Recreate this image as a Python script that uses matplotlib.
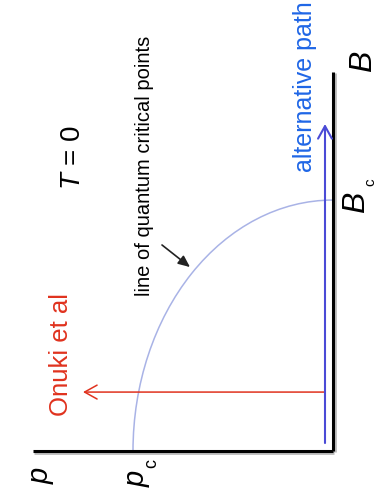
import matplotlib
matplotlib.use("Agg")
import matplotlib.pyplot as plt
from matplotlib.patches import Arc

plt.rcParams['font.family'] = ['Liberation Sans', 'DejaVu Sans']
plt.rcParams['mathtext.fontset'] = 'custom'
plt.rcParams['mathtext.it'] = 'Liberation Sans:italic'
plt.rcParams['mathtext.rm'] = 'Liberation Sans'

# ---- schematic data (p in units of p_c, B in units of B_c) ----
p_c = 1.0
B_c = 1.0
axis_p_end = [0.0, 1.5]          # pressure axis extent
axis_B_end = [0.0, 1.51]         # field axis extent
onuki_B = [0.235, 0.235]         # Onuki et al path (constant B, increasing p)
onuki_p = [0.04, 1.25]
alt_p = [0.04, 0.04]             # alternative path (p ~ 0, increasing B)
alt_B = [0.032, 1.303]
label_arrow_p = [0.855, 0.715]   # pointer to the QCP line
label_arrow_B = [0.821, 0.733]

RED = '#e0321e'
BLUE_LINE = '#4b4bd6'
BLUE_TEXT = '#1f66e6'
ARC = '#a9b3e6'

fig = plt.figure(figsize=(3.77, 4.99), dpi=100)
ax = fig.add_axes([0, 0, 1, 1])
ax.set_xlim(1.665, -0.22)
ax.set_ylim(-0.191, 1.797)
ax.axis('off')

# axes lines (with light shadow)
ax.plot([axis_p_end[0], axis_p_end[1]], [0, 0], color='#bbbbbb', lw=2.0,
        transform=ax.transData + matplotlib.transforms.ScaledTranslation(1/100, -1.5/100, fig.dpi_scale_trans),
        solid_capstyle='butt')
ax.plot([0, 0], [axis_B_end[0], axis_B_end[1]], color='#bbbbbb', lw=2.0,
        transform=ax.transData + matplotlib.transforms.ScaledTranslation(1.5/100, -1/100, fig.dpi_scale_trans),
        solid_capstyle='butt')
ax.plot(axis_p_end, [0, 0], color='black', lw=2.2, solid_capstyle='butt')
ax.plot([0, 0], axis_B_end, color='black', lw=2.2, solid_capstyle='butt')

# line of quantum critical points
ax.add_patch(Arc((0, 0), 2 * p_c, 2 * B_c, theta1=0, theta2=90, color=ARC, lw=1.1))

# Onuki et al path
ax.annotate('', xy=(onuki_p[1], onuki_B[1]), xytext=(onuki_p[0], onuki_B[0]),
            arrowprops=dict(arrowstyle='->, head_length=0.45, head_width=0.25',
                            mutation_scale=20, color=RED, lw=1.1, shrinkA=0, shrinkB=0))
# alternative path
ax.annotate('', xy=(alt_p[1], alt_B[1]), xytext=(alt_p[0], alt_B[0]),
            arrowprops=dict(arrowstyle='->, head_length=0.45, head_width=0.25',
                            mutation_scale=20, color=BLUE_LINE, lw=1.5, shrinkA=0, shrinkB=0))
# pointer arrow
ax.annotate('', xy=(label_arrow_p[1], label_arrow_B[1]), xytext=(label_arrow_p[0], label_arrow_B[0]),
            arrowprops=dict(arrowstyle='-|>, head_length=0.5, head_width=0.22',
                            mutation_scale=14, color='#222222', lw=1.2, shrinkA=0, shrinkB=0))

def px(x, y):
    return x / 377, 1 - y / 499

tf = ax.transAxes
ax.text(*px(305, 87), 'alternative path', color=BLUE_TEXT, fontsize=18, rotation=90,
        ha='center', va='center', transform=tf)
ax.text(*px(145, 166), 'line of quantum critical points', color='black', fontsize=14.5,
        rotation=90, ha='center', va='center', transform=tf)
ax.text(*px(61, 355), 'Onuki et al', color=RED, fontsize=18.5, rotation=90,
        ha='center', va='center', transform=tf)
ax.text(*px(73, 158), r'$T$ = 0', color='black', fontsize=20, rotation=90,
        ha='center', va='center', transform=tf)
ax.text(*px(363, 61), 'B', color='black', fontsize=23, style='italic', rotation=90,
        ha='center', va='center', transform=tf)
ax.text(*px(356, 202), 'B', color='black', fontsize=23, style='italic', rotation=90,
        ha='center', va='center', transform=tf)
ax.text(*px(370, 182), 'c', color='black', fontsize=11, rotation=90,
        ha='center', va='center', transform=tf)
ax.text(*px(41, 476), 'p', color='black', fontsize=21, style='italic', rotation=90,
        ha='center', va='center', transform=tf)
ax.text(*px(137, 479), 'p', color='black', fontsize=21, style='italic', rotation=90,
        ha='center', va='center', transform=tf)
ax.text(*px(152, 463), 'c', color='black', fontsize=13, rotation=90,
        ha='center', va='center', transform=tf)

fig.savefig('out.png', dpi=100)
